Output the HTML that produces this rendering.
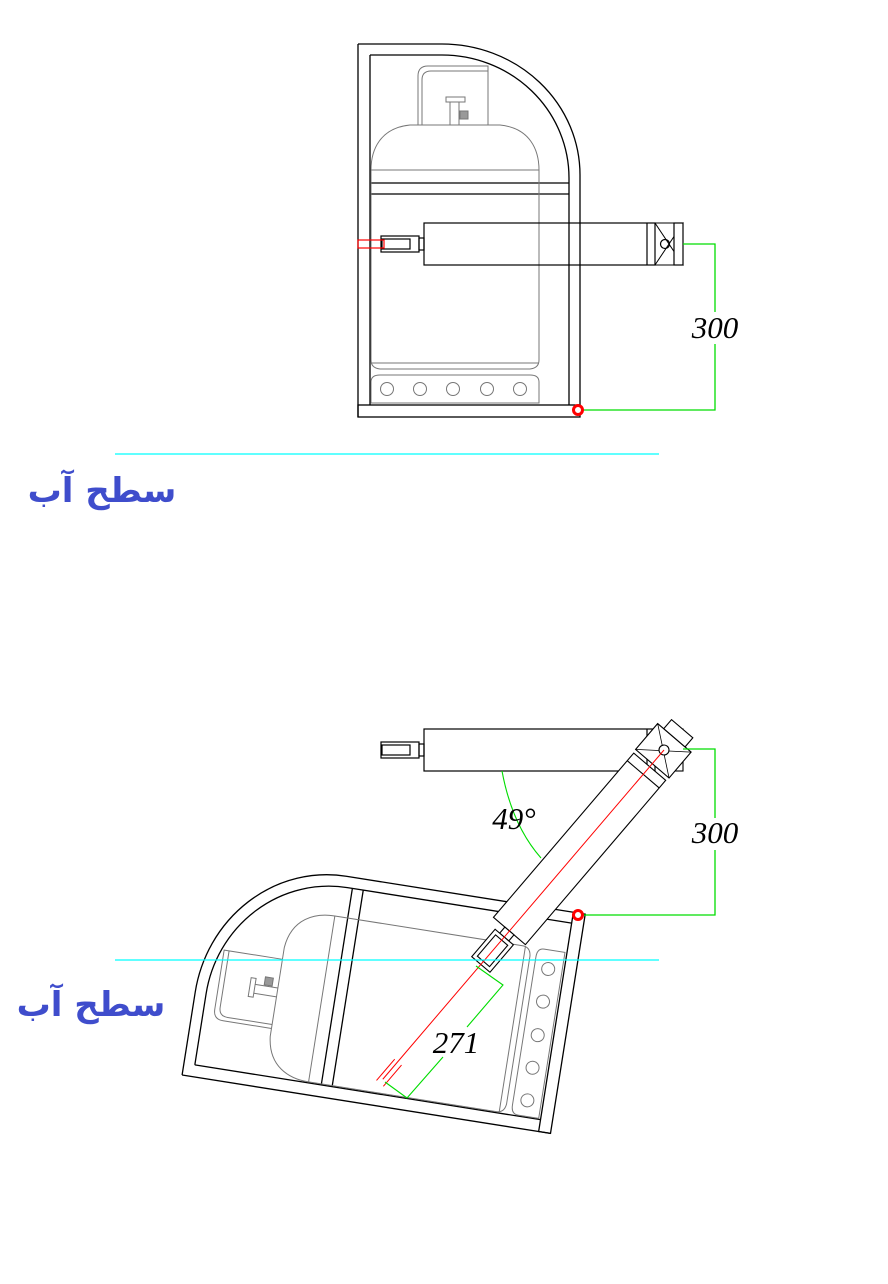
<!DOCTYPE html>
<html><head><meta charset="utf-8"><style>
html,body{margin:0;padding:0;background:#fff;}
svg{display:block}
.t{font-family:"Liberation Serif",serif;font-style:italic;font-size:31px;fill:#000}
.p{font-family:"DejaVu Sans",sans-serif;font-weight:bold;font-size:34px;fill:#3f4dcc}
</style></head><body>
<svg width="888" height="1284" viewBox="0 0 888 1284" xmlns="http://www.w3.org/2000/svg">
<defs>
<g id="frame" fill="none">
  <g stroke="#000" stroke-width="1.3">
    <line x1="358" y1="44" x2="358" y2="417"/>
    <line x1="370" y1="55" x2="370" y2="405"/>
    <path d="M358,44 H442 A138,131 0 0 1 580,175 V405"/>
    <path d="M370,55 H442 A127,123 0 0 1 569,178 V405"/>
    <line x1="370" y1="183" x2="569" y2="183"/>
    <line x1="370" y1="194" x2="569" y2="194"/>
    <rect x="358" y="405" width="222" height="12"/>
  </g>
  <g stroke="#777" stroke-width="1">
    <path d="M418,125 V76 Q418,66 428,66 H488 V125"/>
    <path d="M422,125 V80 Q422,71 431,71 H488"/>
    <path d="M410,125 C380,128 371,150 371,170 V360 Q371,368 380,369 H530 Q539,368 539,360 V170 C539,150 530,128 500,125 Z"/>
    <line x1="371" y1="170" x2="539" y2="170"/>
    <line x1="371" y1="363" x2="539" y2="363"/>
    <path d="M371,403 V382 Q371,375 380,375 H530 Q539,375 539,382 V403 Z"/>
    <circle cx="387" cy="389" r="6.5"/><circle cx="420" cy="389" r="6.5"/><circle cx="453" cy="389" r="6.5"/><circle cx="487" cy="389" r="6.5"/><circle cx="520" cy="389" r="6.5"/>
    <rect x="446" y="97" width="19" height="5"/>
    <path d="M450,102 V125 M459,102 V125"/>
    <rect x="460" y="111" width="8" height="8" fill="#999"/>
  </g>
</g>
<g id="cyl" fill="none" stroke="#000" stroke-width="1.2">
  <rect x="424" y="223" width="231" height="42"/>
  <line x1="647" y1="223" x2="647" y2="265"/>
  <rect x="419" y="238" width="5" height="12"/>
  <rect x="381" y="236" width="38" height="16"/>
  <rect x="382" y="239" width="28" height="10"/>
</g>
</defs>

<!-- TOP -->
<use href="#frame"/>
<use href="#cyl"/>
<g fill="none" stroke="#000" stroke-width="1.2">
  <path d="M655,223 L683,223 L655,265 L683,265 Z" stroke-width="1"/>
  <rect x="674" y="223" width="9" height="42" fill="#fff"/>
  <circle cx="665" cy="244" r="4.5"/>
</g>
<rect x="358" y="240" width="26" height="8" fill="none" stroke="#f00" stroke-width="1.2"/>
<polyline points="683,244 715,244 715,312" fill="none" stroke="#0d0" stroke-width="1.3"/>
<polyline points="715,344 715,410 580,410" fill="none" stroke="#0d0" stroke-width="1.3"/>
<text x="715" y="338" class="t" text-anchor="middle">300</text>
<circle cx="578" cy="410" r="4.5" fill="#fff" stroke="#f00" stroke-width="3"/>
<line x1="115" y1="454" x2="659" y2="454" stroke="#0ff" stroke-width="1.2"/>
<text x="102" y="502" class="p" text-anchor="middle">سطح آب</text>

<!-- BOTTOM -->
<use href="#frame" transform="translate(578,915) rotate(-81) translate(-578,-410)"/>
<use href="#cyl" transform="translate(0,506)"/>
<g fill="none" stroke="#000" stroke-width="1.1">
  <rect x="674" y="729" width="9" height="42" fill="#fff"/>
</g>
<g transform="translate(664,750) rotate(130.5)" fill="none" stroke="#000" stroke-width="1.1">
  <rect x="22" y="-21" width="216" height="42" fill="#fff"/>
  <line x1="32" y1="-21" x2="32" y2="21"/>
  <rect x="238" y="-6" width="8" height="12" fill="#fff"/>
  <rect x="246" y="-12" width="36" height="24" fill="#fff"/>
  <rect x="250" y="-8" width="28" height="16"/>
  <rect x="-16" y="-22" width="34" height="44" fill="#fff"/>
  <path d="M-16,-22 L18,22 M-16,22 L18,-22" stroke-width="0.8"/>
  <rect x="-28" y="-14" width="12" height="28" fill="#fff"/>
  <circle cx="0" cy="0" r="5" fill="#fff"/>
  <line x1="0" y1="0" x2="433" y2="0" stroke="#f00" stroke-width="1"/>
  <path d="M410,-5 L438,-5 M410,4 L438,4" stroke="#f00" stroke-width="1"/>
</g>
<path d="M502,771 Q512,825 541,858" fill="none" stroke="#0d0" stroke-width="1.1"/>
<text x="514" y="829" class="t" text-anchor="middle">49°</text>
<polyline points="683,749 715,749 715,818" fill="none" stroke="#0d0" stroke-width="1.3"/>
<polyline points="715,850 715,915 580,915" fill="none" stroke="#0d0" stroke-width="1.3"/>
<text x="715" y="843" class="t" text-anchor="middle">300</text>
<circle cx="578" cy="915" r="4.5" fill="#fff" stroke="#f00" stroke-width="3"/>
<polyline points="476,966 503,985 467,1027" fill="none" stroke="#0d0" stroke-width="1.1"/>
<polyline points="443,1057 407,1098 385,1082" fill="none" stroke="#0d0" stroke-width="1.1"/>
<text x="456" y="1053" class="t" text-anchor="middle">271</text>
<line x1="115" y1="960" x2="659" y2="960" stroke="#0ff" stroke-width="1.2"/>
<text x="91" y="1016" class="p" text-anchor="middle">سطح آب</text>
</svg>
</body></html>
